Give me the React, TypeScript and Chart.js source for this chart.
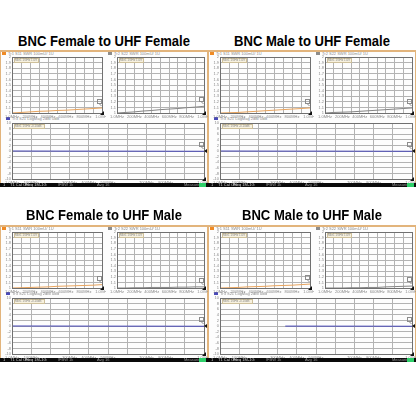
import React, { useEffect, useRef } from "react";
import { Chart, registerables } from "chart.js";
Chart.register(...registerables);

const panelTitles = [
  "BNC Female to UHF Female",
  "BNC Male to UHF Female",
  "BNC Female to UHF Male",
  "BNC Male to UHF Male",
];

const sweepDiv = [0, 1, 2, 3, 4, 5, 6, 7, 8, 9, 10];
const freqTopLabels = ["1.0MHz", "", "200MHz", "", "400MHz", "", "600MHz", "", "800MHz", "", "1.0GHz"];
const freqBottomLabels = ["1.0MHz", "100MHz", "", "300MHz", "400MHz", "500MHz", "", "700MHz", "800MHz", "", "1.0GHz"];
const swrTickLabels = ["1", "1.1", "1.2", "1.3", "1.4", "1.5", "1.6", "1.7", "1.8", "1.9", "2"];
const dbTickLabels = ["-10", "-8", "-6", "-4", "-2", "0", "2", "4", "6", "8", "10"];

// S11 SWR (orange trace)
const s11SwrFF = [1.0, 1.01, 1.02, 1.03, 1.035, 1.045, 1.05, 1.06, 1.07, 1.08, 1.09];
const s11SwrMF = [1.0, 1.005, 1.01, 1.02, 1.03, 1.04, 1.05, 1.06, 1.07, 1.08, 1.09];
const s11SwrFM = [1.0, 1.005, 1.01, 1.015, 1.02, 1.03, 1.035, 1.04, 1.045, 1.05, 1.06];
const s11SwrMM = [1.0, 1.005, 1.01, 1.02, 1.025, 1.03, 1.04, 1.045, 1.05, 1.06, 1.07];

// S22 SWR (grey trace)
const s22SwrFF = [1.0, 1.01, 1.02, 1.035, 1.045, 1.06, 1.07, 1.08, 1.095, 1.105, 1.12];
const s22SwrMF = [1.0, 1.01, 1.015, 1.02, 1.03, 1.04, 1.05, 1.06, 1.07, 1.08, 1.09];
const s22SwrFM = [1.0, 1.0, 1.005, 1.005, 1.01, 1.01, 1.01, 1.015, 1.015, 1.02, 1.02];
const s22SwrMM = [1.0, 1.0, 1.0, 1.005, 1.005, 1.01, 1.01, 1.02, 1.025, 1.03, 1.035];

// S21 insertion loss dB (blue trace)
const s21DbFF = [0, -0.02, -0.03, -0.04, -0.05, -0.06, -0.06, -0.07, -0.08, -0.09, -0.1];
const s21DbMF = [0, -0.02, -0.03, -0.04, -0.05, -0.05, -0.06, -0.07, -0.08, -0.09, -0.1];
const s21DbFM = [0, -0.01, -0.02, -0.03, -0.04, -0.05, -0.06, -0.06, -0.07, -0.08, -0.09];
const s21DbMMX = [3.4, 4, 5, 6, 7, 8, 9, 10];
const s21DbMM = [-0.04, -0.04, -0.05, -0.06, -0.06, -0.07, -0.08, -0.09];

const YW = 11;
const PT = 2;
const PR = 4;
const XH = 7;

type PlotProps = {
  left: number;
  top: number;
  w: number;
  h: number;
  xs: number[];
  ys: number[];
  color: string;
  kind: "swr" | "db";
  legend: string;
};

function Plot(p: PlotProps) {
  const ref = useRef<HTMLCanvasElement>(null);
  const cw = p.w + YW + PR;
  const chh = p.h + PT + XH;
  useEffect(() => {
    const isSwr = p.kind === "swr";
    const yLabels = isSwr ? swrTickLabels : dbTickLabels;
    const xLabels = isSwr ? freqTopLabels : freqBottomLabels;
    const deco = {
      id: "deco",
      afterDatasetsDraw(chart: any) {
        const { ctx, chartArea: a } = chart;
        ctx.save();
        ctx.strokeStyle = "#707070";
        ctx.lineWidth = 1;
        ctx.strokeRect(Math.round(a.left) + 0.5, Math.round(a.top) + 0.5, Math.round(a.right - a.left), Math.round(a.bottom - a.top));
        // legend box
        const lw = isSwr ? 24 : 30;
        ctx.fillStyle = "#f7f1df";
        ctx.fillRect(a.left + 2, a.top + 1, lw, 4);
        ctx.strokeStyle = "#cdbf9a";
        ctx.strokeRect(a.left + 2.5, a.top + 1.5, lw, 4);
        ctx.fillStyle = "#8a8a8a";
        ctx.font = "3px 'Liberation Sans'";
        ctx.textBaseline = "middle";
        ctx.fillText(p.legend, a.left + 3, a.top + 3.6);
        // marker flag at trace end
        const meta = chart.getDatasetMeta(0);
        const last = meta.data[meta.data.length - 1];
        if (last) {
          const px = Math.round(last.x);
          const py = Math.round(last.y);
          ctx.strokeStyle = "#8c8c8c";
          ctx.strokeRect(px - 4.5, py - 8.5, 4, 4);
          ctx.beginPath();
          ctx.moveTo(px - 2.5, py - 4);
          ctx.lineTo(px - 0.5, py - 2);
          ctx.stroke();
          if (!isSwr) {
            ctx.fillStyle = "#111";
            ctx.beginPath();
            ctx.moveTo(a.right + 3, py - 2);
            ctx.lineTo(a.right + 3, py + 2);
            ctx.lineTo(a.right, py);
            ctx.closePath();
            ctx.fill();
          }
        }
        // stop marker at bottom right corner
        ctx.fillStyle = "#111";
        ctx.beginPath();
        ctx.moveTo(a.right - 2, a.bottom + 2);
        ctx.lineTo(a.right + 2, a.bottom + 2);
        ctx.lineTo(a.right + 2, a.bottom - 2);
        ctx.closePath();
        ctx.fill();
        ctx.restore();
      },
    };
    const chart = new Chart(ref.current as HTMLCanvasElement, {
      type: "line",
      data: {
        datasets: [
          {
            data: p.xs.map((x, i) => ({ x, y: p.ys[i] })),
            borderColor: p.color,
            borderWidth: 1,
            pointRadius: 0,
            tension: 0,
            clip: 2,
          } as any,
        ],
      },
      options: {
        animation: false,
        responsive: false,
        maintainAspectRatio: false,
        events: [],
        layout: { padding: { top: PT, right: PR, left: 0, bottom: 0 } },
        plugins: { legend: { display: false }, tooltip: { enabled: false } },
        scales: {
          x: {
            type: "linear",
            min: 0,
            max: 10,
            ticks: {
              stepSize: 1,
              autoSkip: false,
              maxRotation: 0,
              padding: 1,
              color: "#8a8a8a",
              font: { size: 4, family: "'Liberation Sans'" },
              callback: (_v: any, i: number) => xLabels[i],
            },
            grid: { color: "#b3b3b3", lineWidth: 1, drawTicks: false },
            border: { display: false },
            afterFit: (s: any) => {
              s.height = XH;
              s.paddingLeft = 0;
              s.paddingRight = 0;
            },
          },
          y: {
            min: isSwr ? 1 : -10,
            max: isSwr ? 2 : 10,
            ticks: {
              stepSize: isSwr ? 0.1 : 2,
              autoSkip: false,
              padding: 1,
              color: "#8a8a8a",
              font: { size: 4, family: "'Liberation Sans'" },
              callback: (_v: any, i: number) => yLabels[i],
            },
            grid: { color: "#b3b3b3", lineWidth: 1, drawTicks: false },
            border: { display: false },
            afterFit: (s: any) => {
              s.width = YW;
              s.paddingTop = 0;
              s.paddingBottom = 0;
            },
          },
        },
      } as any,
      plugins: [deco],
    });
    return () => chart.destroy();
  }, []);
  return (
    <canvas
      ref={ref}
      width={cw}
      height={chh}
      style={{ position: "absolute", left: p.left - YW, top: p.top - PT, width: cw, height: chh }}
    />
  );
}

function Tiny(props: { x: number; y: number; text: string; color?: string }) {
  return (
    <div
      style={{
        position: "absolute",
        left: props.x,
        top: props.y,
        fontSize: 4,
        lineHeight: "4px",
        color: props.color || "#8a8a8a",
        fontFamily: "'Liberation Sans', Arial, sans-serif",
        whiteSpace: "nowrap",
      }}
    >
      {props.text}
    </div>
  );
}

function Icon(props: { x: number; y: number; color: string }) {
  return (
    <div style={{ position: "absolute", left: props.x, top: props.y, width: 4, height: 3, background: props.color }} />
  );
}

type PanelProps = {
  x0: number;
  y0: number;
  title: string;
  titleTop: number;
  s11: number[];
  s22: number[];
  s21x: number[];
  s21: number[];
};

function Panel(p: PanelProps) {
  return (
    <>
      <div
        style={{
          position: "absolute",
          left: p.x0,
          width: 208,
          top: p.titleTop,
          textAlign: "center",
          fontFamily: "'Liberation Sans', Arial, sans-serif",
          fontWeight: "bold",
          fontSize: 15,
          lineHeight: "15px",
          color: "#000",
          whiteSpace: "nowrap",
          transform: "scaleX(0.87)",
          transformOrigin: "center",
        }}
      >
        {p.title}
      </div>
      <div
        style={{
          position: "absolute",
          left: p.x0,
          top: p.y0,
          width: 208,
          height: 137,
          boxSizing: "border-box",
          borderTop: "2px solid #e2b47c",
          borderLeft: "1px solid #e2b47c",
          borderRight: "1px solid #e2b47c",
          background: "#fdfdfd",
        }}
      >
        <Icon x={1} y={0} color="#ef8a25" />
        <Tiny x={7} y={0} text="Tr1 S11 SWR 100mU/ 1U" />
        <Icon x={107} y={0} color="#8c8c8c" />
        <Tiny x={113} y={0} text="Tr2 S22 SWR 100mU/ 1U" />
        <Icon x={5} y={65} color="#4a4ab8" />
        <Tiny x={11} y={65} text="Tr3 S21 LogMag 2dB/ 0dB" />
        <Plot left={11} top={5} w={90} h={56} xs={sweepDiv} ys={p.s11} color="#e8a45e" kind="swr" legend="Mkr1 1GHz 1.09" />
        <Plot left={116} top={5} w={87} h={56} xs={sweepDiv} ys={p.s22} color="#858585" kind="swr" legend="Mkr1 1GHz 1.09" />
        <Plot left={11} top={71} w={192} h={56} xs={p.s21x} ys={p.s21} color="#4545b5" kind="db" legend="Mkr1 1GHz -0.10dB" />
        <div style={{ position: "absolute", left: -1, top: 131, width: 208, height: 4, background: "#0a0a0a" }}>
          <Tiny x={3} y={0} text="1" color="#cfcfcf" />
          <Tiny x={10} y={0} text="T1 Cal ON" color="#cfcfcf" />
          <Tiny x={25} y={0} text="Freq 1M-1G" color="#cfcfcf" />
          <Tiny x={58} y={0} text="IFBW 1k" color="#9a9a9a" />
          <Tiny x={97} y={0} text="Avg 16" color="#9a9a9a" />
          <Tiny x={184} y={0} text="Measuring" color="#9a9a9a" />
          <div style={{ position: "absolute", left: 199, top: 0, width: 7, height: 4, background: "#2fcf6a" }} />
        </div>
      </div>
    </>
  );
}

export default function App() {
  return (
    <div style={{ position: "fixed", left: 0, top: 0, width: 416, height: 416, background: "#fff", overflow: "hidden" }}>
      <Panel x0={0} y0={50} title={panelTitles[0]} titleTop={33} s11={s11SwrFF} s22={s22SwrFF} s21x={sweepDiv} s21={s21DbFF} />
      <Panel x0={208} y0={50} title={panelTitles[1]} titleTop={33} s11={s11SwrMF} s22={s22SwrMF} s21x={sweepDiv} s21={s21DbMF} />
      <Panel x0={0} y0={225} title={panelTitles[2]} titleTop={207} s11={s11SwrFM} s22={s22SwrFM} s21x={sweepDiv} s21={s21DbFM} />
      <Panel x0={208} y0={225} title={panelTitles[3]} titleTop={207} s11={s11SwrMM} s22={s22SwrMM} s21x={s21DbMMX} s21={s21DbMM} />
    </div>
  );
}
